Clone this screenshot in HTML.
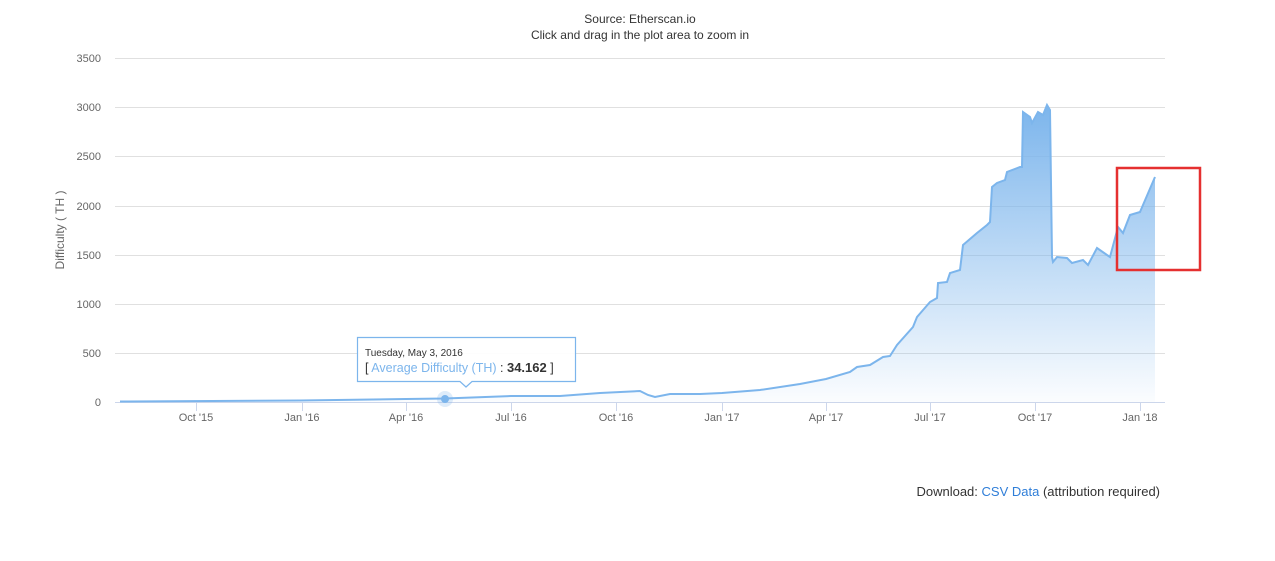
<!DOCTYPE html><html><head><style>body{margin:0;background:#fff;width:1275px;height:556px;overflow:hidden;font-family:"Liberation Sans",sans-serif}</style></head><body>
<svg width="1275" height="556" xmlns="http://www.w3.org/2000/svg" font-family="Liberation Sans, sans-serif">
<defs><linearGradient id="g" x1="0" y1="0" x2="0" y2="1"><stop offset="0" stop-color="#7cb5ec" stop-opacity="1"/><stop offset="1" stop-color="#7cb5ec" stop-opacity="0.03"/></linearGradient></defs>
<text x="640" y="23" text-anchor="middle" font-size="12" fill="#333">Source: Etherscan.io</text>
<text x="640" y="39" text-anchor="middle" font-size="12" fill="#333">Click and drag in the plot area to zoom in</text>
<g stroke="#e0e0e0" stroke-width="1">
<line x1="115" x2="1165" y1="58.5" y2="58.5"/><line x1="115" x2="1165" y1="107.5" y2="107.5"/><line x1="115" x2="1165" y1="156.5" y2="156.5"/><line x1="115" x2="1165" y1="206.5" y2="206.5"/><line x1="115" x2="1165" y1="255.5" y2="255.5"/><line x1="115" x2="1165" y1="304.5" y2="304.5"/><line x1="115" x2="1165" y1="353.5" y2="353.5"/></g>
<path d="M120,401.5 L300,400.5 L406,399 L445,398.5 L511,396 L560,396 L600,393 L640,391 L648,395 L655,397 L670,394 L700,394 L722,393 L760,390 L800,384 L826,379 L850,372 L857,367 L870,365 L883,357 L890,356 L897,345 L913,327 L917,317 L930,302 L937,298 L938,283 L947,282 L950,273 L960,270 L963,245 L977,233 L987,225 L990,222 L992,187 L997,183 L1005,180 L1007,172 L1020,167 L1022,167 L1023,112 L1030,117 L1032,123 L1038,112 L1043,115 L1047,105 L1050,110 L1052,257 L1053,262 L1057,257 L1067,258 L1072,263 L1083,260 L1088,265 L1097,248 L1107,255 L1110,257 L1118,227 L1123,233 L1130,215 L1140,212 L1143,205 L1155,177 L1155,402 L120,402 Z" fill="url(#g)"/>
<line x1="115" x2="1165" y1="402.5" y2="402.5" stroke="#ccd6eb"/>
<g stroke="#ccd6eb"><line x1="196.5" x2="196.5" y1="402" y2="411"/><line x1="302.5" x2="302.5" y1="402" y2="411"/><line x1="406.5" x2="406.5" y1="402" y2="411"/><line x1="511.5" x2="511.5" y1="402" y2="411"/><line x1="616.5" x2="616.5" y1="402" y2="411"/><line x1="722.5" x2="722.5" y1="402" y2="411"/><line x1="826.5" x2="826.5" y1="402" y2="411"/><line x1="930.5" x2="930.5" y1="402" y2="411"/><line x1="1035.5" x2="1035.5" y1="402" y2="411"/><line x1="1140.5" x2="1140.5" y1="402" y2="411"/></g>
<g font-size="11" fill="#666" text-anchor="middle">
<text x="196" y="421">Oct '15</text><text x="302" y="421">Jan '16</text><text x="406" y="421">Apr '16</text><text x="511" y="421">Jul '16</text><text x="616" y="421">Oct '16</text><text x="722" y="421">Jan '17</text><text x="826" y="421">Apr '17</text><text x="930" y="421">Jul '17</text><text x="1035" y="421">Oct '17</text><text x="1140" y="421">Jan '18</text></g>
<g font-size="11" fill="#666" text-anchor="end">
<text x="101" y="62">3500</text><text x="101" y="111">3000</text><text x="101" y="160">2500</text><text x="101" y="210">2000</text><text x="101" y="259">1500</text><text x="101" y="308">1000</text><text x="101" y="357">500</text><text x="101" y="406">0</text></g>
<text transform="translate(64,230) rotate(-90)" text-anchor="middle" font-size="12" fill="#666">Difficulty ( TH )</text>
<path d="M120,401.5 L300,400.5 L406,399 L445,398.5 L511,396 L560,396 L600,393 L640,391 L648,395 L655,397 L670,394 L700,394 L722,393 L760,390 L800,384 L826,379 L850,372 L857,367 L870,365 L883,357 L890,356 L897,345 L913,327 L917,317 L930,302 L937,298 L938,283 L947,282 L950,273 L960,270 L963,245 L977,233 L987,225 L990,222 L992,187 L997,183 L1005,180 L1007,172 L1020,167 L1022,167 L1023,112 L1030,117 L1032,123 L1038,112 L1043,115 L1047,105 L1050,110 L1052,257 L1053,262 L1057,257 L1067,258 L1072,263 L1083,260 L1088,265 L1097,248 L1107,255 L1110,257 L1118,227 L1123,233 L1130,215 L1140,212 L1143,205 L1155,177" fill="none" stroke="#7cb5ec" stroke-width="2"/>
<circle cx="445" cy="399" r="8" fill="#7cb5ec" opacity="0.25"/><circle cx="445" cy="399" r="4" fill="#7cb5ec"/>
<path d="M357.5,337.5 H575.5 V381.5 H472 L466,387 L460,381.5 H357.5 Z" fill="#fff" fill-opacity="0.92" stroke="#7cb5ec" stroke-width="1.2"/>
<text x="365" y="356" font-size="10" fill="#333">Tuesday, May 3, 2016</text>
<text x="365" y="372" font-size="12.5" fill="#333">[ <tspan fill="#7cb5ec">Average Difficulty (TH)</tspan> : <tspan font-weight="bold" font-size="13">34.162</tspan> ]</text>
<rect x="1117" y="168" width="83" height="102" fill="none" stroke="#e53030" stroke-width="2.5"/>
<text x="1160" y="496" text-anchor="end" font-size="13" fill="#333">Download: <tspan fill="#2f7ed8">CSV Data</tspan> (attribution required)</text>
</svg></body></html>
